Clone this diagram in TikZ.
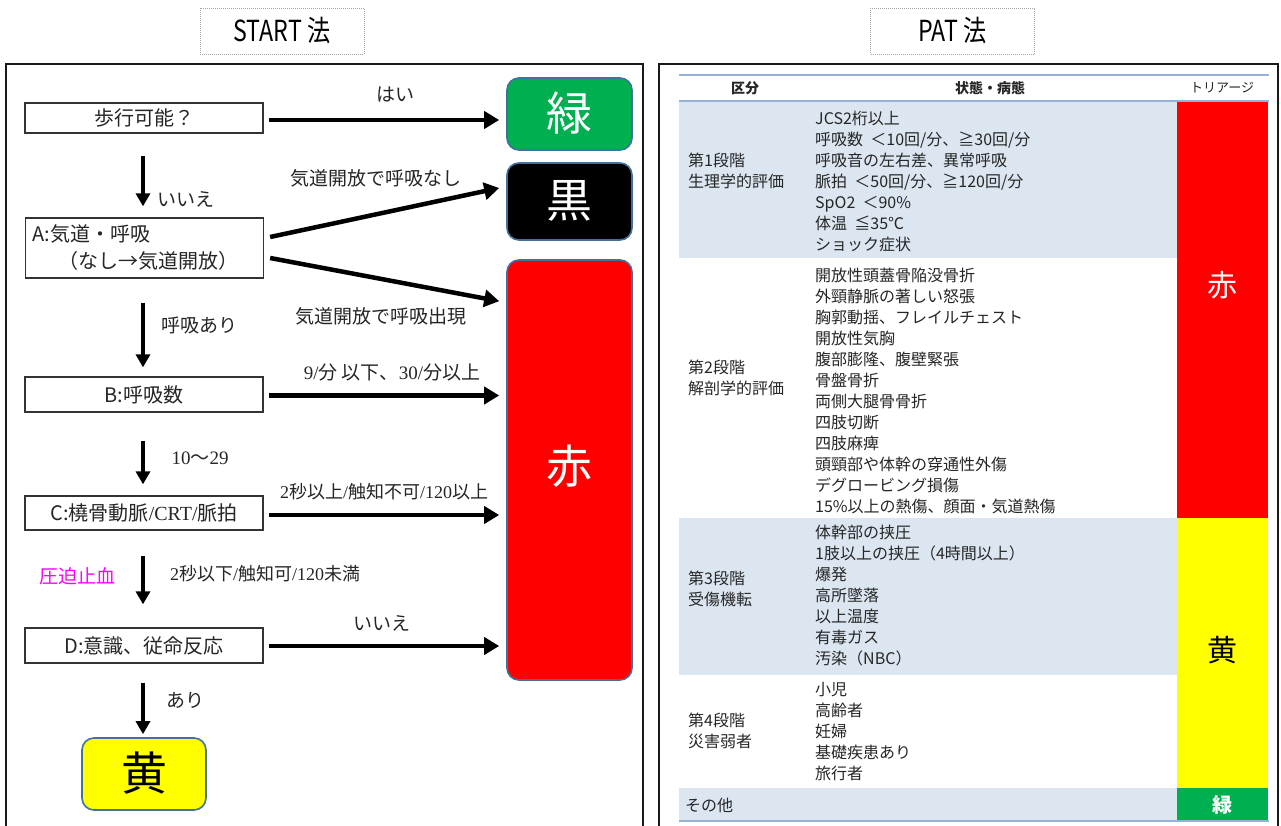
\documentclass[tikz,border=0pt]{standalone}
\usepackage{fontspec}
\usepackage{graphicx}
\setmainfont{Noto Sans CJK JP}
\newfontfamily\numf{Liberation Serif}
\usetikzlibrary{arrows.meta,calc}
\definecolor{tgreen}{HTML}{00B050}
\definecolor{tred}{HTML}{FF0000}
\definecolor{tyellow}{HTML}{FFFF00}
\definecolor{rowblue}{HTML}{DCE6F1}
\definecolor{lineblue}{HTML}{95B3D7}
\definecolor{edgeblue}{HTML}{41719C}
\definecolor{mag}{HTML}{FF00FF}
\definecolor{txt}{HTML}{262626}
\begin{document}
\begin{tikzpicture}[x=1pt,y=-1pt,
  flowbox/.style={draw=black!80, line width=1.3pt, fill=white, minimum width=238pt, inner sep=0pt, text=txt, font=\fontsize{20}{27}\selectfont},
  tribox/.style={draw=edgeblue, line width=1.6pt, rounded corners=12pt, inner sep=0pt, minimum width=125pt},
  bigtxt/.style={font=\fontsize{46}{50}\selectfont, inner sep=0pt},
  bigarrow/.style={line width=4.5pt, -{Triangle[length=15pt,width=17pt]}},
  downarrow/.style={line width=3.5pt, -{Triangle[length=13pt,width=14pt]}},
  lbl/.style={font=\fontsize{19}{22}\selectfont, inner sep=0pt, text=txt},
  titlebox/.style={draw=gray!70, dash pattern=on 1pt off 1pt, line width=0.8pt, minimum width=164pt, minimum height=46pt, inner sep=0pt, font=\fontsize{29}{30}\selectfont},
  tcell/.style={font=\fontsize{16}{21}\selectfont, align=left, anchor=west, inner sep=0pt, text=txt},
  thead/.style={font=\bfseries\fontsize{14}{16}\selectfont, inner sep=0pt, text=txt},
  frame/.style={draw=black!90, line width=2pt}
]
\useasboundingbox (0,0) rectangle (1281,826);
\fill[white] (0,0) rectangle (1281,826);

% titles
\node[titlebox] (t1) at (282,31) {\scalebox{0.8}[1]{START 法}};
\node[titlebox] (t2) at (952.5,31) {\scalebox{0.8}[1]{PAT 法}};

% frames
\draw[frame] (6,840) -- (6,64) -- (643,64) -- (643,840);
\draw[frame] (659,840) -- (659,64) -- (1278,64) -- (1278,840);

% ===== START flow =====
\node[flowbox, minimum height=30pt] (W) at (144,118) {歩行可能？};
\node[flowbox, minimum height=60pt, align=left, text width=224pt, inner xsep=7pt] (A) at (144.5,248)
  {A:気道・呼吸\\\hspace*{1.3em}（なし→気道開放）};
\node[flowbox, minimum height=35pt] (B) at (144,394.5) {B:呼吸数};
\node[flowbox, minimum height=34pt] (C) at (144,513) {C:橈骨動脈{\numf /CRT/}脈拍};
\node[flowbox, minimum height=35pt] (D) at (144,645.5) {D:意識、従命反応};

\node[tribox, fill=tgreen, minimum height=72pt] (G) at (569.5,114) {};
\node[bigtxt, text=white] (Gt) at (569.5,113) {緑};
\node[tribox, fill=black, minimum height=77pt] (K) at (569.5,201.5) {};
\node[bigtxt, text=white] (Kt) at (569.5,201) {黒};
\node[tribox, fill=tred, minimum height=420pt] (R) at (569.5,470) {};
\node[bigtxt, text=white] (Rt) at (569.5,466) {赤};
\node[tribox, fill=tyellow, minimum width=124pt, minimum height=72pt] (Y) at (144,774) {};
\node[bigtxt, text=black] (Yt) at (144,773) {黄};

% horizontal arrows
\draw[bigarrow] ($(W.east)+(5,2)$) -- ($(W.east -| G.west)+(-7,2)$);
\draw[bigarrow] ($(A.east)+(6,-11)$) -- ($(K.west)+(-7,-13.5)$);
\draw[bigarrow] ($(A.east)+(6,10)$) -- ($(R.north west)+(-7,42)$);
\draw[bigarrow] ($(B.east)+(5,1)$) -- ($(B.east -| R.west)+(-7,1)$);
\draw[bigarrow] ($(C.east)+(5,2)$) -- ($(C.east -| R.west)+(-7,2)$);
\draw[bigarrow] ($(D.east)+(5,0.5)$) -- ($(D.east -| R.west)+(-7,0.5)$);

% vertical arrows
\draw[downarrow] ($(W.south)+(-1,22)$) -- ($(A.north)+(-1.5,-11)$);
\draw[downarrow] ($(A.south)+(-1.5,24)$) -- ($(B.north)+(-1,-9)$);
\draw[downarrow] ($(B.south)+(-1,28)$) -- ($(C.north)+(-1,-11)$);
\draw[downarrow] ($(C.south)+(-1,25)$) -- ($(D.north)+(-1,-23)$);
\draw[downarrow] ($(D.south)+(-1,19)$) -- ($(Y.north)+(-1,-3)$);

% labels
\node[lbl] (l1) at (395,95) {はい};
\node[lbl] (l2) at (186,199) {いいえ};
\node[lbl] (l3) at (376,178) {気道開放で呼吸なし};
\node[lbl] (l4) at (381,316) {気道開放で呼吸出現};
\node[lbl] (l5) at (199,325) {呼吸あり};
\node[lbl] (l6) at (392,372) {{\numf 9/}分 以下、{\numf 30/}分以上};
\node[lbl] (l7) at (200,458) {{\numf 10}〜{\numf 29}};
\node[lbl, font=\fontsize{18}{22}\selectfont] (l8) at (384,492) {{\numf 2}秒以上{\numf /}触知不可{\numf /120}以上};
\node[lbl, text=mag] (l9) at (77,576) {圧迫止血};
\node[lbl, font=\fontsize{18}{22}\selectfont] (l10) at (265,574) {{\numf 2}秒以下{\numf /}触知可{\numf /120}未満};
\node[lbl] (l11) at (382,623) {いいえ};
\node[lbl] (l12) at (185,700) {あり};

% ===== PAT table =====
\fill[rowblue] (679,102) rectangle (1177,258);
\fill[rowblue] (679,518) rectangle (1177,675);
\fill[rowblue] (679,788) rectangle (1177,820);
\fill[tred] (1177,102) rectangle (1268,518);
\fill[tyellow] (1177,518) rectangle (1268,788);
\fill[tgreen] (1177,788) rectangle (1268,820);
\draw[lineblue, line width=2.5pt] (679,75) -- (1269,75);
\draw[lineblue, line width=2.5pt] (679,101) -- (1269,101);
\draw[lineblue, line width=2.5pt] (679,821) -- (1269,821);

\node[thead] (h1) at (745,88) {区分};
\node[thead] (h2) at (990,88) {状態・病態};
\node[thead, font=\fontsize{13}{16}\selectfont] (h3) at (1222,88) {トリアージ};

\node[tcell] (c11) at (688,171) {第1段階\\生理学的評価};
\node[tcell] (c12) at (815,181.5) {JCS2桁以上\\呼吸数\ \ ＜10回/分、≧30回/分\\呼吸音の左右差、異常呼吸\\脈拍\ \ ＜50回/分、≧120回/分\\SpO2\ \ ＜90\%\\体温\ \ ≦35℃\\ショック症状};
\node[tcell] (c21) at (688,378) {第2段階\\解剖学的評価};
\node[tcell] (c22) at (815,390.5) {開放性頭蓋骨陥没骨折\\外頸静脈の著しい怒張\\胸郭動揺、フレイルチェスト\\開放性気胸\\腹部膨隆、腹壁緊張\\骨盤骨折\\両側大腿骨骨折\\四肢切断\\四肢麻痺\\頭頸部や体幹の穿通性外傷\\デグロービング損傷\\15\%以上の熱傷、顔面・気道熱傷};
\node[tcell] (c31) at (688,589) {第3段階\\受傷機転};
\node[tcell] (c32) at (815,596) {体幹部の挟圧\\1肢以上の挟圧（4時間以上）\\爆発\\高所墜落\\以上温度\\有毒ガス\\汚染（NBC）};
\node[tcell] (c41) at (688,731) {第4段階\\災害弱者};
\node[tcell] (c42) at (815,731.5) {小児\\高齢者\\妊婦\\基礎疾患あり\\旅行者};
\node[tcell] (c51) at (685,805) {その他};

\node[font=\fontsize{30}{32}\selectfont, text=white, inner sep=0pt] (tr) at (1222,285) {赤};
\node[font=\fontsize{30}{32}\selectfont, text=black, inner sep=0pt] (ty) at (1222,650) {黄};
\node[font=\bfseries\fontsize{20}{22}\selectfont, text=white, inner sep=0pt] (tg) at (1222,805) {緑};
\end{tikzpicture}
\end{document}
